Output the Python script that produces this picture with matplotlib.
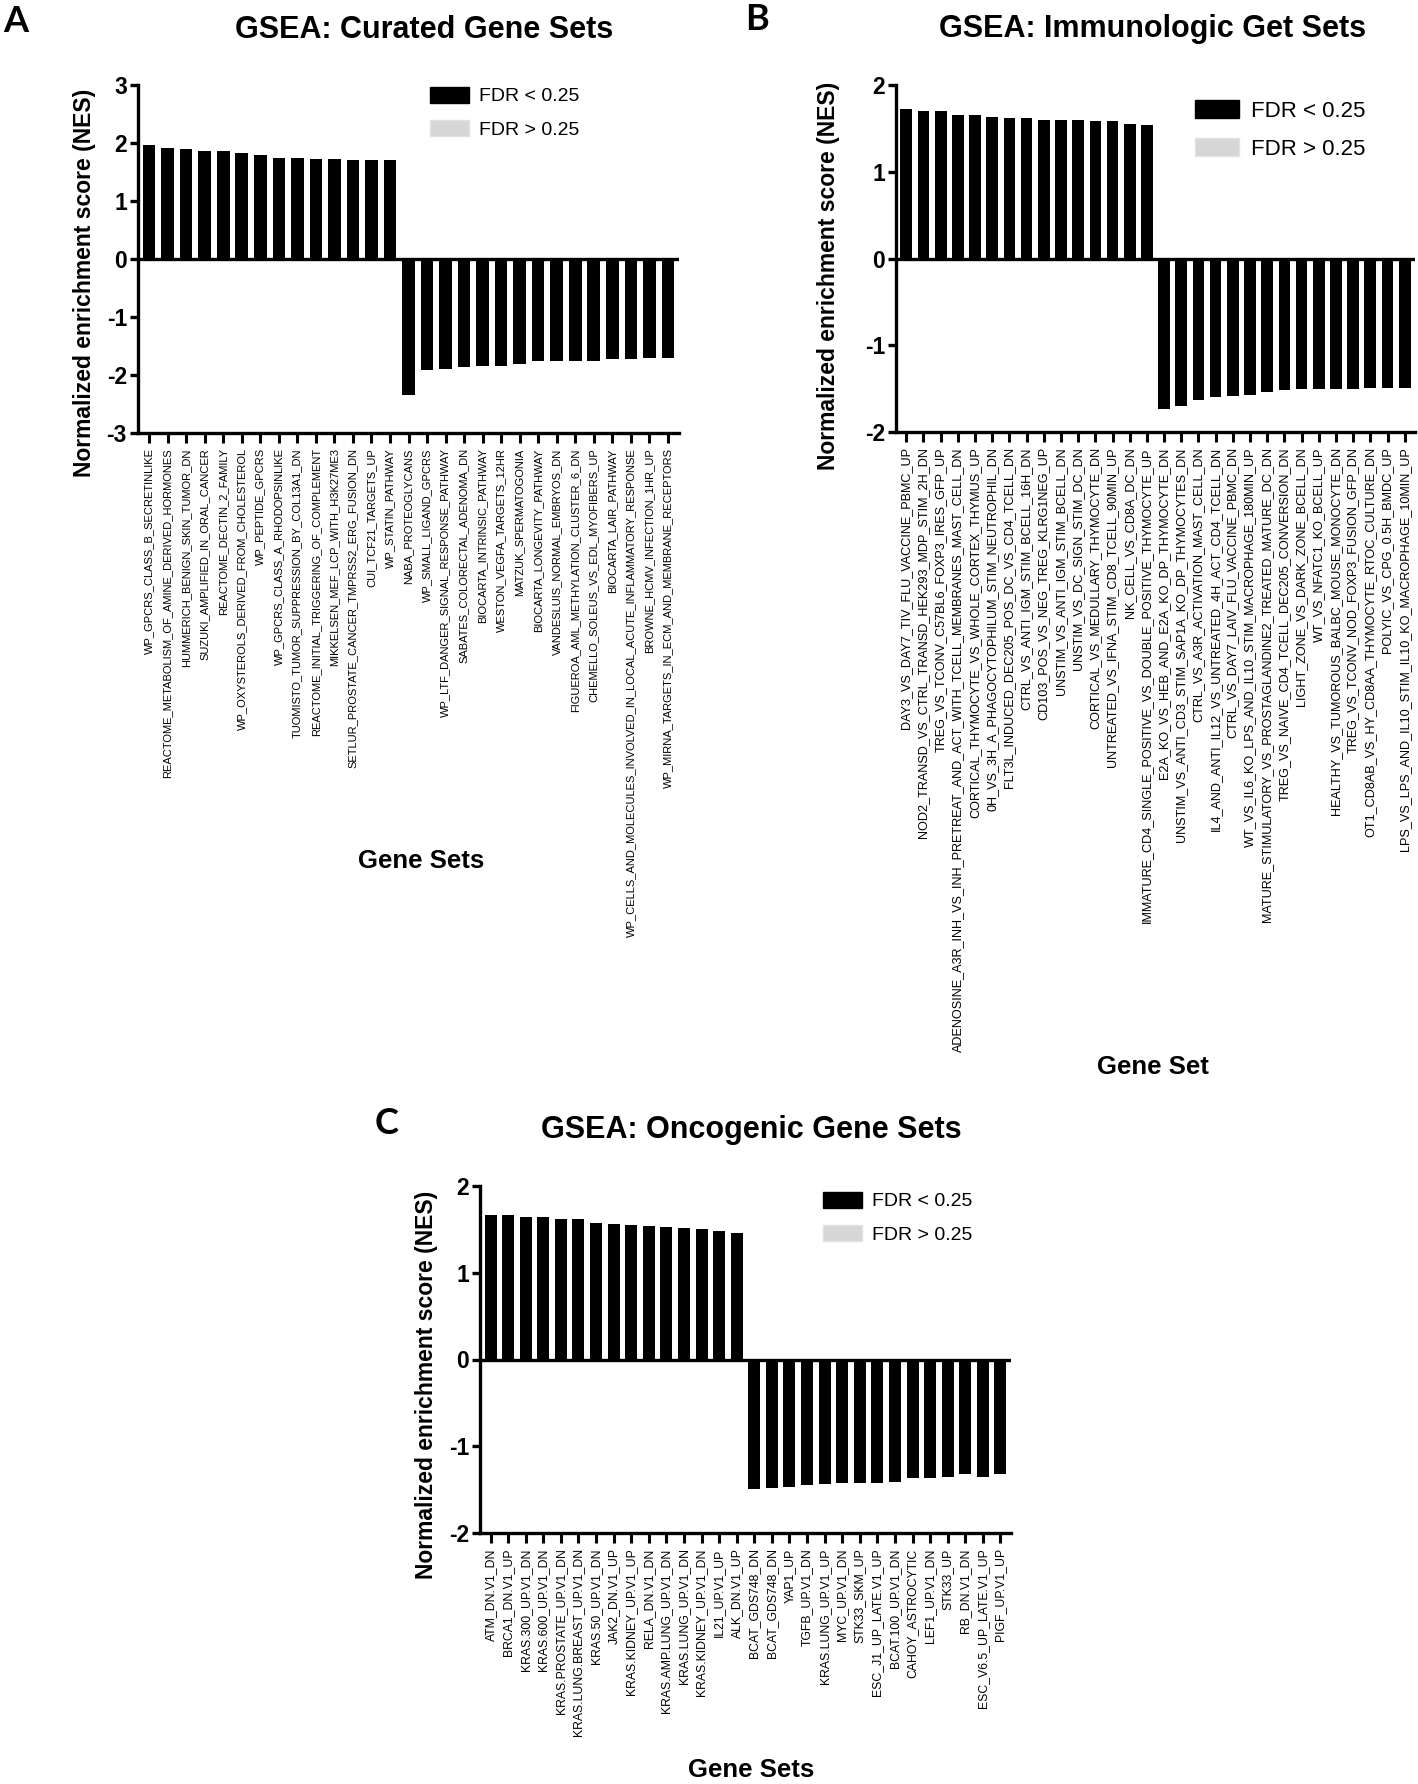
import matplotlib
matplotlib.use('Agg')
from matplotlib import pyplot as plt
from matplotlib.patches import Patch
import numpy as np

plt.rcParams['font.family'] = ['Liberation Sans', 'DejaVu Sans']
plt.rcParams['axes.unicode_minus'] = False

# ---- panel A: curated gene sets
curated_sets = [
    'WP_GPCRS_CLASS_B_SECRETINLIKE', 'REACTOME_METABOLISM_OF_AMINE_DERIVED_HORMONES',
    'HUMMERICH_BENIGN_SKIN_TUMOR_DN', 'SUZUKI_AMPLIFIED_IN_ORAL_CANCER',
    'REACTOME_DECTIN_2_FAMILY', 'WP_OXYSTEROLS_DERIVED_FROM_CHOLESTEROL',
    'WP_PEPTIDE_GPCRS', 'WP_GPCRS_CLASS_A_RHODOPSINLIKE',
    'TUOMISTO_TUMOR_SUPPRESSION_BY_COL13A1_DN', 'REACTOME_INITIAL_TRIGGERING_OF_COMPLEMENT',
    'MIKKELSEN_MEF_LCP_WITH_H3K27ME3', 'SETLUR_PROSTATE_CANCER_TMPRSS2_ERG_FUSION_DN',
    'CUI_TCF21_TARGETS_UP', 'WP_STATIN_PATHWAY', 'NABA_PROTEOGLYCANS',
    'WP_SMALL_LIGAND_GPCRS', 'WP_LTF_DANGER_SIGNAL_RESPONSE_PATHWAY',
    'SABATES_COLORECTAL_ADENOMA_DN', 'BIOCARTA_INTRINSIC_PATHWAY',
    'WESTON_VEGFA_TARGETS_12HR', 'MATZUK_SPERMATOGONIA', 'BIOCARTA_LONGEVITY_PATHWAY',
    'VANDESLUIS_NORMAL_EMBRYOS_DN', 'FIGUEROA_AML_METHYLATION_CLUSTER_6_DN',
    'CHEMELLO_SOLEUS_VS_EDL_MYOFIBERS_UP', 'BIOCARTA_LAIR_PATHWAY',
    'WP_CELLS_AND_MOLECULES_INVOLVED_IN_LOCAL_ACUTE_INFLAMMATORY_RESPONSE',
    'BROWNE_HCMV_INFECTION_1HR_UP', 'WP_MIRNA_TARGETS_IN_ECM_AND_MEMBRANE_RECEPTORS']
curated_nes = [1.97, 1.91, 1.90, 1.87, 1.86, 1.82, 1.79, 1.75, 1.74, 1.72, 1.72, 1.71, 1.70, 1.70,
               -2.34, -1.91, -1.90, -1.87, -1.84, -1.84, -1.81, -1.75, -1.75, -1.75, -1.75,
               -1.72, -1.72, -1.70, -1.70]

# ---- panel B: immunologic gene sets
immuno_sets = [
    'DAY3_VS_DAY7_TIV_FLU_VACCINE_PBMC_UP', 'NOD2_TRANSD_VS_CTRL_TRANSD_HEK293_MDP_STIM_2H_DN',
    'TREG_VS_TCONV_C57BL6_FOXP3_IRES_GFP_UP',
    'ADENOSINE_A3R_INH_VS_INH_PRETREAT_AND_ACT_WITH_TCELL_MEMBRANES_MAST_CELL_DN',
    'CORTICAL_THYMOCYTE_VS_WHOLE_CORTEX_THYMUS_UP', '0H_VS_3H_A_PHAGOCYTOPHILUM_STIM_NEUTROPHIL_DN',
    'FLT3L_INDUCED_DEC205_POS_DC_VS_CD4_TCELL_DN', 'CTRL_VS_ANTI_IGM_STIM_BCELL_16H_DN',
    'CD103_POS_VS_NEG_TREG_KLRG1NEG_UP', 'UNSTIM_VS_ANTI_IGM_STIM_BCELL_DN',
    'UNSTIM_VS_DC_SIGN_STIM_DC_DN', 'CORTICAL_VS_MEDULLARY_THYMOCYTE_DN',
    'UNTREATED_VS_IFNA_STIM_CD8_TCELL_90MIN_UP', 'NK_CELL_VS_CD8A_DC_DN',
    'IMMATURE_CD4_SINGLE_POSITIVE_VS_DOUBLE_POSITIVE_THYMOCYTE_UP',
    'E2A_KO_VS_HEB_AND_E2A_KO_DP_THYMOCYTE_DN', 'UNSTIM_VS_ANTI_CD3_STIM_SAP1A_KO_DP_THYMOCYTES_DN',
    'CTRL_VS_A3R_ACTIVATION_MAST_CELL_DN', 'IL4_AND_ANTI_IL12_VS_UNTREATED_4H_ACT_CD4_TCELL_DN',
    'CTRL_VS_DAY7_LAIV_FLU_VACCINE_PBMC_DN', 'WT_VS_IL6_KO_LPS_AND_IL10_STIM_MACROPHAGE_180MIN_UP',
    'MATURE_STIMULATORY_VS_PROSTAGLANDINE2_TREATED_MATURE_DC_DN',
    'TREG_VS_NAIVE_CD4_TCELL_DEC205_CONVERSION_DN', 'LIGHT_ZONE_VS_DARK_ZONE_BCELL_DN',
    'WT_VS_NFATC1_KO_BCELL_UP', 'HEALTHY_VS_TUMOROUS_BALBC_MOUSE_MONOCYTE_DN',
    'TREG_VS_TCONV_NOD_FOXP3_FUSION_GFP_DN', 'OT1_CD8AB_VS_HY_CD8AA_THYMOCYTE_RTOC_CULTURE_DN',
    'POLYIC_VS_CPG_0.5H_BMDC_UP', 'LPS_VS_LPS_AND_IL10_STIM_IL10_KO_MACROPHAGE_10MIN_UP']
immuno_nes = [1.72, 1.70, 1.70, 1.65, 1.65, 1.63, 1.62, 1.62, 1.60, 1.60, 1.60, 1.59, 1.58, 1.55, 1.54,
              -1.73, -1.70, -1.63, -1.60, -1.58, -1.57, -1.54, -1.52, -1.51, -1.50, -1.50,
              -1.50, -1.49, -1.49, -1.49]

# ---- panel C: oncogenic gene sets
onco_sets = [
    'ATM_DN.V1_DN', 'BRCA1_DN.V1_UP', 'KRAS.300_UP.V1_DN', 'KRAS.600_UP.V1_DN',
    'KRAS.PROSTATE_UP.V1_DN', 'KRAS.LUNG.BREAST_UP.V1_DN', 'KRAS.50_UP.V1_DN', 'JAK2_DN.V1_UP',
    'KRAS.KIDNEY_UP.V1_UP', 'RELA_DN.V1_DN', 'KRAS.AMP.LUNG_UP.V1_DN', 'KRAS.LUNG_UP.V1_DN',
    'KRAS.KIDNEY_UP.V1_DN', 'IL21_UP.V1_UP', 'ALK_DN.V1_UP', 'BCAT_GDS748_DN', 'BCAT_GDS748_DN',
    'YAP1_UP', 'TGFB_UP.V1_DN', 'KRAS.LUNG_UP.V1_UP', 'MYC_UP.V1_DN', 'STK33_SKM_UP',
    'ESC_J1_UP_LATE.V1_UP', 'BCAT.100_UP.V1_DN', 'CAHOY_ASTROCYTIC', 'LEF1_UP.V1_DN',
    'STK33_UP', 'RB_DN.V1_DN', 'ESC_V6.5_UP_LATE.V1_UP', 'PIGF_UP.V1_UP']
onco_nes = [1.67, 1.66, 1.64, 1.64, 1.62, 1.62, 1.57, 1.56, 1.55, 1.54, 1.53, 1.52, 1.50, 1.48, 1.46,
            -1.49, -1.48, -1.47, -1.45, -1.44, -1.42, -1.42, -1.42, -1.41, -1.37, -1.37,
            -1.35, -1.32, -1.35, -1.32]

legend_labels = ['FDR < 0.25', 'FDR > 0.25']

W, H = 1418, 1784
fig = plt.figure(figsize=(W / 100, H / 100), dpi=100)


def fx(px):
    return px / W


def fy(py):
    return 1 - py / H


def panel(box, names, nes, ylim, title, title_xy, ylab_xy, xlab, xlab_xy,
          leg_xy, leg_fs, tick_fs):
    left, right, top, bottom = box
    ax = fig.add_axes([fx(left), fy(bottom), fx(right - left), (bottom - top) / H])
    x = np.arange(len(names))
    ax.bar(x, nes, width=0.68, color='black')
    ax.axhline(0, color='black', lw=2.4)
    ax.set_xlim(-0.6, len(names) - 0.4)
    ax.set_ylim(*ylim)
    ax.set_yticks(np.arange(ylim[0], ylim[1] + 1))
    ax.set_xticks(x)
    ax.set_xticklabels(names, rotation=90, fontsize=tick_fs, color='black')
    for s in ['top', 'right']:
        ax.spines[s].set_visible(False)
    for s in ['left', 'bottom']:
        ax.spines[s].set_linewidth(2.4)
    ax.tick_params(axis='y', length=6, width=2.4, labelsize=16.5, pad=2)
    ax.tick_params(axis='x', length=7, width=2.2, pad=4)
    for t in ax.get_yticklabels():
        t.set_fontweight('bold')
    fig.text(fx(title_xy[0]), fy(title_xy[1]), title, fontsize=22, fontweight='bold',
             ha='center', va='center')
    fig.text(fx(ylab_xy[0]), fy(ylab_xy[1]), 'Normalized enrichment score (NES)',
             fontsize=16.5, fontweight='bold', rotation=90, ha='center', va='center')
    fig.text(fx(xlab_xy[0]), fy(xlab_xy[1]), xlab, fontsize=18.5, fontweight='bold',
             ha='center', va='center')
    handles = [Patch(facecolor='black', edgecolor='black'),
               Patch(facecolor='#d6d6d6', edgecolor='#e2e2e2')]
    ax.legend(handles, legend_labels, loc='upper left',
              bbox_to_anchor=(fx(leg_xy[0]), fy(leg_xy[1])), bbox_transform=fig.transFigure,
              frameon=False, fontsize=leg_fs, handlelength=2.0, handleheight=0.85,
              handletextpad=0.5, labelspacing=0.75, borderpad=0, borderaxespad=0)
    return ax


panel((138, 679, 85, 433), curated_sets, curated_nes, (-3, 3),
      'GSEA: Curated Gene Sets', (424, 30), (85, 283), 'Gene Sets', (421, 861),
      (430, 87), 14, 8.0)
panel((896, 1415, 85, 432), immuno_sets, immuno_nes, (-2, 2),
      'GSEA: Immunologic Get Sets', (1153, 29), (828, 276), 'Gene Set', (1153, 1067),
      (1195, 100), 16, 9.1)
panel((480, 1011, 1186, 1533), onco_sets, onco_nes, (-2, 2),
      'GSEA: Oncogenic Gene Sets', (751, 1130), (427, 1385), 'Gene Sets', (751, 1770),
      (823, 1192), 14, 8.8)

for letter, (px, py) in zip('ABC', [(16, 21), (757, 19), (387, 1124)]):
    fig.text(fx(px), fy(py), letter, fontsize=26, fontweight='bold', family=['Lato', 'DejaVu Sans'],
             ha='center', va='center')

fig.savefig('out.png', dpi=100, facecolor='white')
